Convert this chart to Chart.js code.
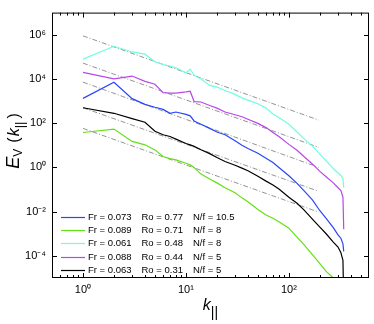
<!DOCTYPE html>
<html>
<head>
<meta charset="utf-8">
<script src="https://cdn.jsdelivr.net/npm/chart.js@4"></script>
<style>
html, body { margin: 0; padding: 0; background: #fff; }
#wrap { width: 374px; height: 324px; }
</style>
</head>
<body>
<div id="wrap"><canvas id="spectra" width="374" height="324"></canvas></div>
<script>
const kVals = [1, 2, 3, 4, 5, 6, 7, 8, 10, 11, 12, 14, 17, 20, 24, 30, 35, 40, 50, 60, 70, 80, 100, 120, 140, 170, 200, 230, 270, 300, 320, 335, 341];

// E_V(k_par) for each run
const eBlue = [1.32e3, 7.1e3, 1.29e3, 710, 525, 420, 280, 320, 250, 215, 126, 89, 58, 40, 30, 16, 10, 7.2, 4.4, 2.6, 1.66, 1.0, 0.42, 0.19, 0.089, 0.033, 0.011, 5.0e-3, 1.9e-3, 8.9e-4, 6.3e-4, 3.5e-4, 1.6e-4];
const eGreen = [38, 54, 15, 10.5, 6.2, 3.1, 2.5, 2.2, 1.55, 1.3, 1.0, 0.5, 0.3, 0.2, 0.12, 0.071, 0.042, 0.028, 0.0126, 7.1e-3, 5.0e-3, 3.5e-3, 1.8e-3, 7.1e-4, 3.2e-4, 1.1e-4, 4.5e-5, 2.0e-5, 1.0e-5, 5e-6, 3.2e-6, 2e-6, 3.2e-7];
const eCyan = [7.9e4, 3.0e5, 1.66e5, 1.32e5, 6.0e4, 4.5e4, 3.8e4, 3.2e4, 1.9e4, 2.8e4, 1.45e4, 1.0e4, 5.1e3, 4.3e3, 3.0e3, 2.0e3, 1.4e3, 1.1e3, 760, 480, 260, 180, 89, 40, 20, 8.9, 4.0, 2.0, 0.89, 0.56, 0.43, 0.32, 0.12];
const eMagenta = [2.0e4, 1.0e4, 1.35e4, 7.8e3, 5.75e3, 2.4e3, 2.3e3, 2.3e3, 2.6e3, 2.8e3, 950, 910, 630, 480, 320, 240, 195, 150, 98, 63, 38, 25, 11, 6.0, 3.1, 1.4, 0.66, 0.38, 0.20, 0.12, 0.089, 0.045, 1.6e-3];
const eBlack = [500, 280, 160, 110, 43, 30, 25, 19, 12, 10.5, 8.9, 6.3, 4.2, 2.8, 1.86, 1.26, 0.93, 0.71, 0.40, 0.24, 0.16, 0.105, 0.045, 0.024, 0.012, 4.5e-3, 2.0e-3, 1.0e-3, 4.2e-4, 2.5e-4, 1.4e-4, 6.3e-5, 1e-6];

// legend entries
const frLabels = ['0.073', '0.089', '0.061', '0.088', '0.063'];
const roLabels = ['0.77', '0.71', '0.48', '0.44', '0.31'];
const nfLabels = ['10.5', '8', '8', '5', '5'];

// k^-5/3 guide lines: value at k = refK[0] and at k = refK[1]
const refK = [1, 195];
const refStart = [8.9e5, 5.2e4, 7.2e3, 500, 58];
const refEnd = [138, 8.1, 1.0, 0.083, 9.5e-3];

// axis ticks
const xTicks = [0.5, 0.6, 0.7, 0.8, 0.9, 1, 2, 3, 4, 5, 6, 7, 8, 9, 10, 20, 30, 40, 50, 60, 70, 80, 90, 100, 200, 300, 400, 500, 600];
const yTicks = [1e-4, 1e-2, 1, 1e2, 1e4, 1e6];

const series = [
    { values: eBlue, color: 'rgb(40,70,250)' },
    { values: eGreen, color: 'rgb(100,225,20)' },
    { values: eCyan, color: 'rgb(110,255,225)' },
    { values: eMagenta, color: 'rgb(185,70,235)' },
    { values: eBlack, color: 'rgb(0,0,0)' }
];

const SUP = { '0': '\u2070', '1': '\u00b9', '2': '\u00b2', '3': '\u00b3', '4': '\u2074', '5': '\u2075', '6': '\u2076', '7': '\u2077', '8': '\u2078', '9': '\u2079', '-': '\u207b' };
function powLabel(v) {
    const e = Math.round(Math.log10(v));
    if (Math.abs(Math.log10(v) - e) > 1e-6) return '';
    return '10' + String(e).split('').map(c => SUP[c]).join('');
}
function isDecade(v) {
    return Math.abs(Math.log10(v) - Math.round(Math.log10(v))) < 1e-6;
}

let datasets = series.map(s => ({
    data: kVals.map((k, i) => ({ x: k, y: s.values[i] })),
    borderColor: s.color,
    borderWidth: 1.2,
    pointRadius: 0,
    tension: 0
}));
refStart.forEach((v, i) => {
    datasets.push({
        data: [{ x: refK[0], y: v }, { x: refK[1], y: refEnd[i] }],
        borderColor: 'rgb(120,120,120)',
        borderWidth: 0.8,
        borderDash: [5, 2, 1, 2],
        pointRadius: 0
    });
});

// draw text made of pieces (font, text, baseline shift)
function drawPieces(ctx, pieces, x0, y0) {
    let x = x0;
    pieces.forEach(p => {
        ctx.font = p.font;
        ctx.fillText(p.t, x, y0 + (p.dy || 0));
        x += ctx.measureText(p.t).width + (p.gap || 0);
    });
}
function piecesWidth(ctx, pieces) {
    let w = 0;
    pieces.forEach(p => { ctx.font = p.font; w += ctx.measureText(p.t).width + (p.gap || 0); });
    return w;
}

const FONT = '"Liberation Sans", Arial, Helvetica, sans-serif';

const frame = {
    id: 'frame',
    afterDraw(chart) {
        const { ctx, chartArea: a, scales: { x, y } } = chart;
        ctx.save();
        ctx.strokeStyle = '#000';
        ctx.lineWidth = 1;
        ctx.strokeRect(a.left + 0.5, a.top + 0.5, a.right - a.left - 1, a.bottom - a.top - 1);

        // inward ticks on all four sides
        ctx.beginPath();
        xTicks.forEach(v => {
            const px = Math.round(x.getPixelForValue(v)) + 0.5;
            if (px <= a.left + 1 || px >= a.right - 1) return;
            const len = isDecade(v) ? 5 : 3;
            ctx.moveTo(px, a.bottom); ctx.lineTo(px, a.bottom - len);
            ctx.moveTo(px, a.top); ctx.lineTo(px, a.top + len);
        });
        yTicks.forEach(v => {
            const py = Math.round(y.getPixelForValue(v)) + 0.5;
            ctx.moveTo(a.left, py); ctx.lineTo(a.left + 5, py);
            ctx.moveTo(a.right, py); ctx.lineTo(a.right - 5, py);
        });
        ctx.stroke();

        // legend in the lower left corner
        ctx.fillStyle = '#000';
        ctx.textBaseline = 'middle';
        ctx.font = '9.5px ' + FONT;
        series.forEach((s, i) => {
            const ly = Math.round(a.top + 204 + i * 13.35) + 0.5;
            ctx.strokeStyle = s.color;
            ctx.lineWidth = 1.2;
            ctx.beginPath();
            ctx.moveTo(a.left + 9, ly); ctx.lineTo(a.left + 33, ly);
            ctx.stroke();
            ctx.fillText('Fr = ' + frLabels[i], a.left + 36, ly);
            ctx.fillText('Ro = ' + roLabels[i], a.left + 89.5, ly);
            ctx.fillText('N/f = ' + nfLabels[i], a.left + 141, ly);
        });

        // axis titles
        ctx.textBaseline = 'alphabetic';
        const xt = [
            { t: 'k', font: 'italic 16px ' + FONT, gap: 0 },
            { t: '||', font: '14px ' + FONT, dy: 7 }
        ];
        const cx = (a.left + a.right) / 2;
        drawPieces(ctx, xt, cx - piecesWidth(ctx, xt) / 2, 310);

        const yt = [
            { t: 'E', font: 'italic 18px ' + FONT, gap: 0 },
            { t: 'V', font: '12px ' + FONT, dy: 3, gap: 6 },
            { t: '(', font: '16px ' + FONT, gap: 1 },
            { t: 'k', font: 'italic 16px ' + FONT, gap: 0 },
            { t: '||', font: '13px ' + FONT, dy: 5, gap: 3 },
            { t: ')', font: '16px ' + FONT }
        ];
        ctx.translate(18.5, 141);
        ctx.rotate(-Math.PI / 2);
        drawPieces(ctx, yt, -piecesWidth(ctx, yt) / 2, 0);
        ctx.restore();
    }
};

const chart = new Chart(document.getElementById('spectra'), {
    type: 'line',
    data: { datasets: datasets },
    options: {
        responsive: false,
        animation: false,
        devicePixelRatio: 1,
        layout: { padding: { top: 9, right: 5, left: 0, bottom: 0 } },
        plugins: { legend: { display: false }, tooltip: { enabled: false } },
        scales: {
            x: {
                type: 'logarithmic',
                min: 0.5,
                max: 600,
                grid: { display: false, drawTicks: false },
                border: { display: false },
                afterBuildTicks: scale => { scale.ticks = xTicks.map(v => ({ value: v })); },
                afterFit: scale => { scale.height = 46; },
                ticks: {
                    autoSkip: false,
                    maxRotation: 0,
                    padding: 5,
                    color: '#000',
                    font: { family: FONT, size: 11 },
                    callback: v => powLabel(v)
                }
            },
            y: {
                type: 'logarithmic',
                min: 1e-5,
                max: 1e7,
                grid: { display: false, drawTicks: false },
                border: { display: false },
                afterBuildTicks: scale => { scale.ticks = yTicks.map(v => ({ value: v })); },
                afterFit: scale => { scale.width = 52; },
                ticks: {
                    autoSkip: false,
                    padding: 6,
                    color: '#000',
                    font: { family: FONT, size: 11 },
                    callback: v => powLabel(v)
                }
            }
        }
    },
    plugins: [frame]
});
</script>
</body>
</html>
